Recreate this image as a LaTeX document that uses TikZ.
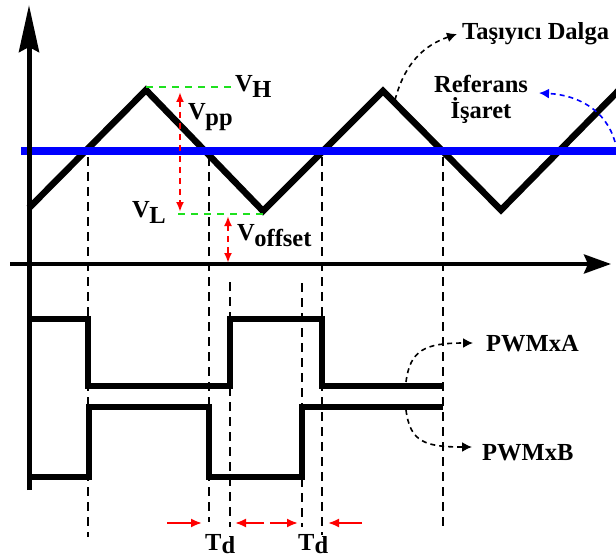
\documentclass[tikz,border=0pt]{standalone}
\usepackage{fontspec}
\setmainfont{Liberation Serif}
\usetikzlibrary{arrows.meta}
\definecolor{refblue}{RGB}{0,0,255}
\definecolor{lgreen}{RGB}{30,225,30}
\definecolor{lred}{RGB}{255,0,0}
\newcommand\vlab[1]{V\kern-0.5pt\raisebox{-6pt}{#1}}
\begin{document}
\begin{tikzpicture}[x=1pt,y=-1pt,
  lbl/.style={font=\fontsize{24.5}{26}\selectfont\bfseries, inner sep=0pt, anchor=base west},
  wave/.style={line width=6.5pt, line join=miter},
  guide/.style={line width=1.5pt, dash pattern=on 9pt off 6pt},
  gdash/.style={lgreen, line width=2pt, dash pattern=on 7pt off 6pt},
  rdash/.style={lred, line width=2pt, dash pattern=on 6pt off 5pt, {Latex[length=10pt,width=8pt]}-{Latex[length=10pt,width=8pt]}},
  tdarrow/.style={lred, line width=2pt, -{Latex[length=11pt,width=9pt]}},
  callout/.style={line width=1.6pt, dash pattern=on 5pt off 4pt, -{Latex[length=10pt,width=10pt]}},
]
\useasboundingbox (0,0) rectangle (616,559);
\clip (0,0) rectangle (616,559);

% carrier wave
\draw[wave] (29,208) -- (146,90) -- (263,211) -- (383,91) -- (501,210) -- (622,87);

% guide dashed lines
\coordinate (g1t) at (88,157);  \coordinate (g1b) at (88,537);
\coordinate (g2t) at (209,157); \coordinate (g2b) at (209,522);
\coordinate (g3t) at (230,282); \coordinate (g3b) at (230,527);
\coordinate (g4t) at (302,283); \coordinate (g4b) at (302,527);
\coordinate (g5t) at (322,157); \coordinate (g5b) at (322,535);
\coordinate (g6t) at (443,157); \coordinate (g6b) at (443,527);
\foreach \i in {1,...,6} \draw[guide] (g\i t) -- (g\i b);

% reference signal
\coordinate (refL) at (21,151); \coordinate (refR) at (620,151);
\draw[refblue, line width=8pt] (refL) -- (refR);

% axes
\coordinate (yaxB) at (29,490); \coordinate (yaxT) at (29,5);
\draw[line width=5pt, -{Stealth[length=47pt,width=20pt,inset=5pt]}] (yaxB) -- (yaxT);
\coordinate (xaxL) at (10,264); \coordinate (xaxR) at (611,264);
\draw[line width=4pt, -{Stealth[length=27pt,width=19pt,inset=4pt]}] (xaxL) -- (xaxR);

% levels
\coordinate (vh1) at (146,87); \coordinate (vh2) at (232,87);
\draw[gdash] (vh1) -- (vh2);
\coordinate (vl1) at (178,214); \coordinate (vl2) at (263,214);
\draw[gdash] (vl1) -- (vl2);
\coordinate (pp1) at (180,92); \coordinate (pp2) at (180,212);
\draw[rdash] (pp1) -- (pp2);
\coordinate (of1) at (228,216); \coordinate (of2) at (228,263);
\draw[rdash] (of1) -- (of2);

\node[lbl] (vH) at (235,92) {\vlab{H}};
\node[lbl] (vPP) at (188,120) {\vlab{pp}};
\node[lbl] (vL) at (132,217) {\vlab{L}};
\node[lbl] (vOff) at (237,240) {\vlab{offset}};

% PWM signals
\draw[wave] (29,319) -| (88,386) -| (230,319) -| (322,386) -- (443,386);
\draw[wave] (29,477) -| (89,407) -| (209,477) -| (302,407) -- (443,407);

% dead time arrows
\coordinate (ta1) at (167,523); \coordinate (tb1) at (202,523);
\coordinate (ta2) at (264,523); \coordinate (tb2) at (235,523);
\coordinate (ta3) at (270,523); \coordinate (tb3) at (298,523);
\coordinate (ta4) at (362,523); \coordinate (tb4) at (328,523);
\foreach \i in {1,...,4} \draw[tdarrow] (ta\i) -- (tb\i);
\node[lbl] (td1) at (205,550) {T\raisebox{-3pt}{d}};
\node[lbl] (td2) at (298,550) {T\raisebox{-3pt}{d}};

% labels and callouts
\node[lbl] (tas) at (462,40) {Taşıyıcı Dalga};
\coordinate (tasS) at (395,100); \coordinate (tasT) at (457,34);
\draw[callout] (tasS) .. controls (405,62) and (425,45) .. (tasT);

\node[lbl, anchor=north, align=center] (ref) at (481,75.5) {Referans\\İşaret};
\coordinate (refS) at (615,142); \coordinate (refT) at (539,93);
\draw[callout, refblue] (refS) .. controls (606,110) and (578,95) .. (refT);

\node[lbl] (pa) at (486,351) {PWMxA};
\coordinate (paS) at (406,382); \coordinate (paT) at (473,343);
\draw[callout] (paS) .. controls (410,350) and (425,343) .. (paT);

\node[lbl] (pb) at (482,460) {PWMxB};
\coordinate (pbS) at (406,410); \coordinate (pbT) at (472,447);
\draw[callout] (pbS) .. controls (410,442) and (425,447) .. (pbT);
\end{tikzpicture}
\end{document}
